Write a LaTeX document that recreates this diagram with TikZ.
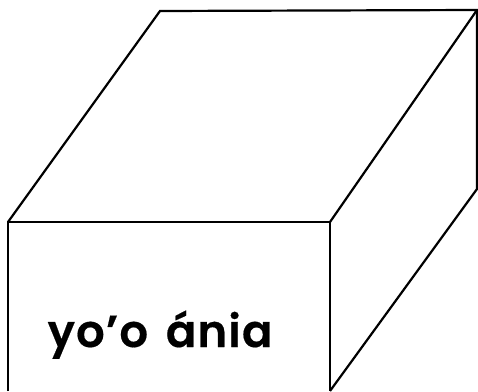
\documentclass[tikz,border=0pt]{standalone}
\usepackage{fontspec}
\newfontfamily\labfont[LetterSpace=2.5,WordSpace=1.5,FakeBold=0.4]{Poppins SemiBold}
\tikzset{edge/.style={draw=black,line width=2.2pt,line join=miter},
 lab/.style={anchor=base west,inner sep=0pt,font=\labfont\fontsize{45}{50}\selectfont}}
\begin{document}
\begin{tikzpicture}[x=1pt,y=-1pt]
\useasboundingbox (0,0) rectangle (478,391);
\coordinate (ftl) at (8,222);
\coordinate (ftr) at (330,222);
\coordinate (fbl) at (8,391);
\coordinate (fbr) at (330,391);
\coordinate (btl) at (160,11);
\coordinate (btr) at (477,10);
\coordinate (bbr) at (477,189);
\draw[edge] (fbl) -- (ftl) -- (ftr) -- (fbr);
\draw[edge] (ftl) -- (btl) -- (btr) -- (ftr);
\draw[edge] (btr) -- (bbr) -- (fbr);
\node[lab] (t) at (47.5,347) {yo’o ánia};
\end{tikzpicture}
\end{document}
